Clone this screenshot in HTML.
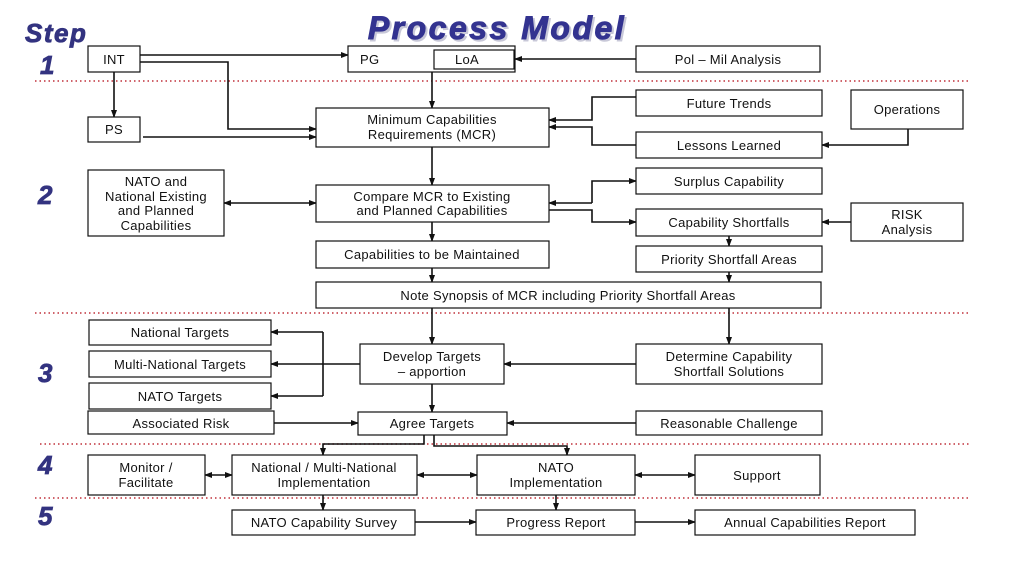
<!DOCTYPE html>
<html><head><meta charset="utf-8"><style>
html,body{margin:0;padding:0;background:#fff;}
svg{display:block;}
text{font-family:"Liberation Sans",sans-serif;font-size:13px;fill:#111;letter-spacing:0.3px;}
.b{fill:#fff;stroke:#111;stroke-width:1.2;}
.l{fill:none;stroke:#111;stroke-width:1.6;}
.d{stroke:#c0303a;stroke-width:1.6;stroke-dasharray:1.5 3;}
.s{font-weight:bold;font-style:italic;fill:#333380;font-size:26px;letter-spacing:1.5px;stroke:#333380;stroke-width:0.8;}
</style></head><body>
<svg width="1013" height="580" viewBox="0 0 1013 580" xmlns="http://www.w3.org/2000/svg">
<defs><marker id="a" markerWidth="8" markerHeight="8" refX="7" refY="4" orient="auto-start-reverse" markerUnits="userSpaceOnUse"><path d="M0,1 L8,4 L0,7 z" fill="#111"/></marker></defs>
<text x="497" y="39" text-anchor="middle" style="font-size:32px;font-weight:bold;font-style:italic;fill:#c8c8d8;letter-spacing:2.5px;stroke:#c8c8d8;stroke-width:1" transform="translate(2,2)">Process Model</text>
<text x="497" y="39" text-anchor="middle" style="font-size:32px;font-weight:bold;font-style:italic;fill:#333390;letter-spacing:2.5px;stroke:#333390;stroke-width:1">Process Model</text>
<text x="25" y="42" class="s">Step</text>
<text x="40" y="74" class="s">1</text>
<text x="38" y="204" class="s">2</text>
<text x="38" y="382" class="s">3</text>
<text x="38" y="474" class="s">4</text>
<text x="38" y="525" class="s">5</text>
<line class="d" x1="35" y1="81" x2="970" y2="81"/>
<line class="d" x1="35" y1="313" x2="970" y2="313"/>
<line class="d" x1="40" y1="444" x2="970" y2="444"/>
<line class="d" x1="35" y1="498" x2="970" y2="498"/>
<g class="l" marker-end="url(#a)">
<path d="M140,55 H348"/><path d="M140,62 H228 V129 H316"/><path d="M114,72 V117"/><path d="M143,137 H316"/>
<path d="M432,72 V108"/><path d="M636,59 H515"/>
<path d="M636,97 H592 V120 H549"/><path d="M636,145 H592 V127 H549"/><path d="M908,129 V145 H822"/>
<path d="M432,147 V185"/><path d="M592,203 V181 H636"/><path d="M549,210 H592 V222 H636"/>
<path d="M851,222 H822"/><path d="M729,236 V246"/><path d="M729,272 V282"/>
<path d="M432,222 V241"/><path d="M432,268 V282"/>
<path d="M432,308 V344"/><path d="M729,308 V344"/><path d="M636,364 H504"/>
<path d="M323,332 H271"/><path d="M323,364 H271"/><path d="M323,396 H271"/>
<path d="M432,384 V412"/><path d="M274,423 H358"/><path d="M636,423 H507"/>
<path d="M424,435 V444 H323 V455"/><path d="M434,435 V446 H567 V455"/>
<path d="M323,495 V510"/><path d="M556,495 V510"/><path d="M415,522 H476"/><path d="M635,522 H695"/>
</g>
<g class="l" marker-start="url(#a)" marker-end="url(#a)">
<path d="M224,203 H316"/><path d="M205,475 H232"/><path d="M417,475 H477"/><path d="M635,475 H695"/>
</g>
<path class="l" d="M592,203 H549" marker-end="url(#a)"/>
<path class="l" d="M360,364 H323 M323,332 V396"/>
<rect class="b" x="88" y="46" width="52" height="26"/><text x="114" y="64" text-anchor="middle">INT</text>
<rect class="b" x="348" y="46" width="167" height="26"/><text x="360" y="64">PG</text>
<rect class="b" x="434" y="50" width="80" height="19"/><text x="467" y="64" text-anchor="middle">LoA</text>
<rect class="b" x="636" y="46" width="184" height="26"/><text x="728" y="64" text-anchor="middle">Pol – Mil Analysis</text>
<rect class="b" x="88" y="117" width="52" height="25"/><text x="114" y="134" text-anchor="middle">PS</text>
<rect class="b" x="316" y="108" width="233" height="39"/><text x="432" y="124" text-anchor="middle">Minimum Capabilities</text><text x="432" y="139" text-anchor="middle">Requirements (MCR)</text>
<rect class="b" x="636" y="90" width="186" height="26"/><text x="729" y="108" text-anchor="middle">Future Trends</text>
<rect class="b" x="636" y="132" width="186" height="26"/><text x="729" y="150" text-anchor="middle">Lessons Learned</text>
<rect class="b" x="851" y="90" width="112" height="39"/><text x="907" y="114" text-anchor="middle">Operations</text>
<rect class="b" x="88" y="170" width="136" height="66"/><text x="156" y="186" text-anchor="middle">NATO and</text><text x="156" y="201" text-anchor="middle">National Existing</text><text x="156" y="215" text-anchor="middle">and Planned</text><text x="156" y="230" text-anchor="middle">Capabilities</text>
<rect class="b" x="316" y="185" width="233" height="37"/><text x="432" y="201" text-anchor="middle">Compare MCR to Existing</text><text x="432" y="215" text-anchor="middle">and Planned Capabilities</text>
<rect class="b" x="636" y="168" width="186" height="26"/><text x="729" y="186" text-anchor="middle">Surplus Capability</text>
<rect class="b" x="636" y="209" width="186" height="27"/><text x="729" y="227" text-anchor="middle">Capability Shortfalls</text>
<rect class="b" x="851" y="203" width="112" height="38"/><text x="907" y="219" text-anchor="middle">RISK</text><text x="907" y="234" text-anchor="middle">Analysis</text>
<rect class="b" x="316" y="241" width="233" height="27"/><text x="432" y="259" text-anchor="middle">Capabilities to be Maintained</text>
<rect class="b" x="636" y="246" width="186" height="26"/><text x="729" y="264" text-anchor="middle">Priority Shortfall Areas</text>
<rect class="b" x="316" y="282" width="505" height="26"/><text x="568" y="300" text-anchor="middle">Note Synopsis of MCR including Priority Shortfall Areas</text>
<rect class="b" x="89" y="320" width="182" height="25"/><text x="180" y="337" text-anchor="middle">National Targets</text>
<rect class="b" x="89" y="351" width="182" height="26"/><text x="180" y="369" text-anchor="middle">Multi-National Targets</text>
<rect class="b" x="89" y="383" width="182" height="26"/><text x="180" y="401" text-anchor="middle">NATO Targets</text>
<rect class="b" x="360" y="344" width="144" height="40"/><text x="432" y="361" text-anchor="middle">Develop Targets</text><text x="432" y="376" text-anchor="middle">– apportion</text>
<rect class="b" x="636" y="344" width="186" height="40"/><text x="729" y="361" text-anchor="middle">Determine Capability</text><text x="729" y="376" text-anchor="middle">Shortfall Solutions</text>
<rect class="b" x="88" y="411" width="186" height="23"/><text x="181" y="428" text-anchor="middle">Associated Risk</text>
<rect class="b" x="358" y="412" width="149" height="23"/><text x="432" y="428" text-anchor="middle">Agree Targets</text>
<rect class="b" x="636" y="411" width="186" height="24"/><text x="729" y="428" text-anchor="middle">Reasonable Challenge</text>
<rect class="b" x="88" y="455" width="117" height="40"/><text x="146" y="472" text-anchor="middle">Monitor /</text><text x="146" y="487" text-anchor="middle">Facilitate</text>
<rect class="b" x="232" y="455" width="185" height="40"/><text x="324" y="472" text-anchor="middle">National / Multi-National</text><text x="324" y="487" text-anchor="middle">Implementation</text>
<rect class="b" x="477" y="455" width="158" height="40"/><text x="556" y="472" text-anchor="middle">NATO</text><text x="556" y="487" text-anchor="middle">Implementation</text>
<rect class="b" x="695" y="455" width="125" height="40"/><text x="757" y="480" text-anchor="middle">Support</text>
<rect class="b" x="232" y="510" width="183" height="25"/><text x="324" y="527" text-anchor="middle">NATO Capability Survey</text>
<rect class="b" x="476" y="510" width="159" height="25"/><text x="556" y="527" text-anchor="middle">Progress Report</text>
<rect class="b" x="695" y="510" width="220" height="25"/><text x="805" y="527" text-anchor="middle">Annual Capabilities Report</text>
</svg>
</body></html>
